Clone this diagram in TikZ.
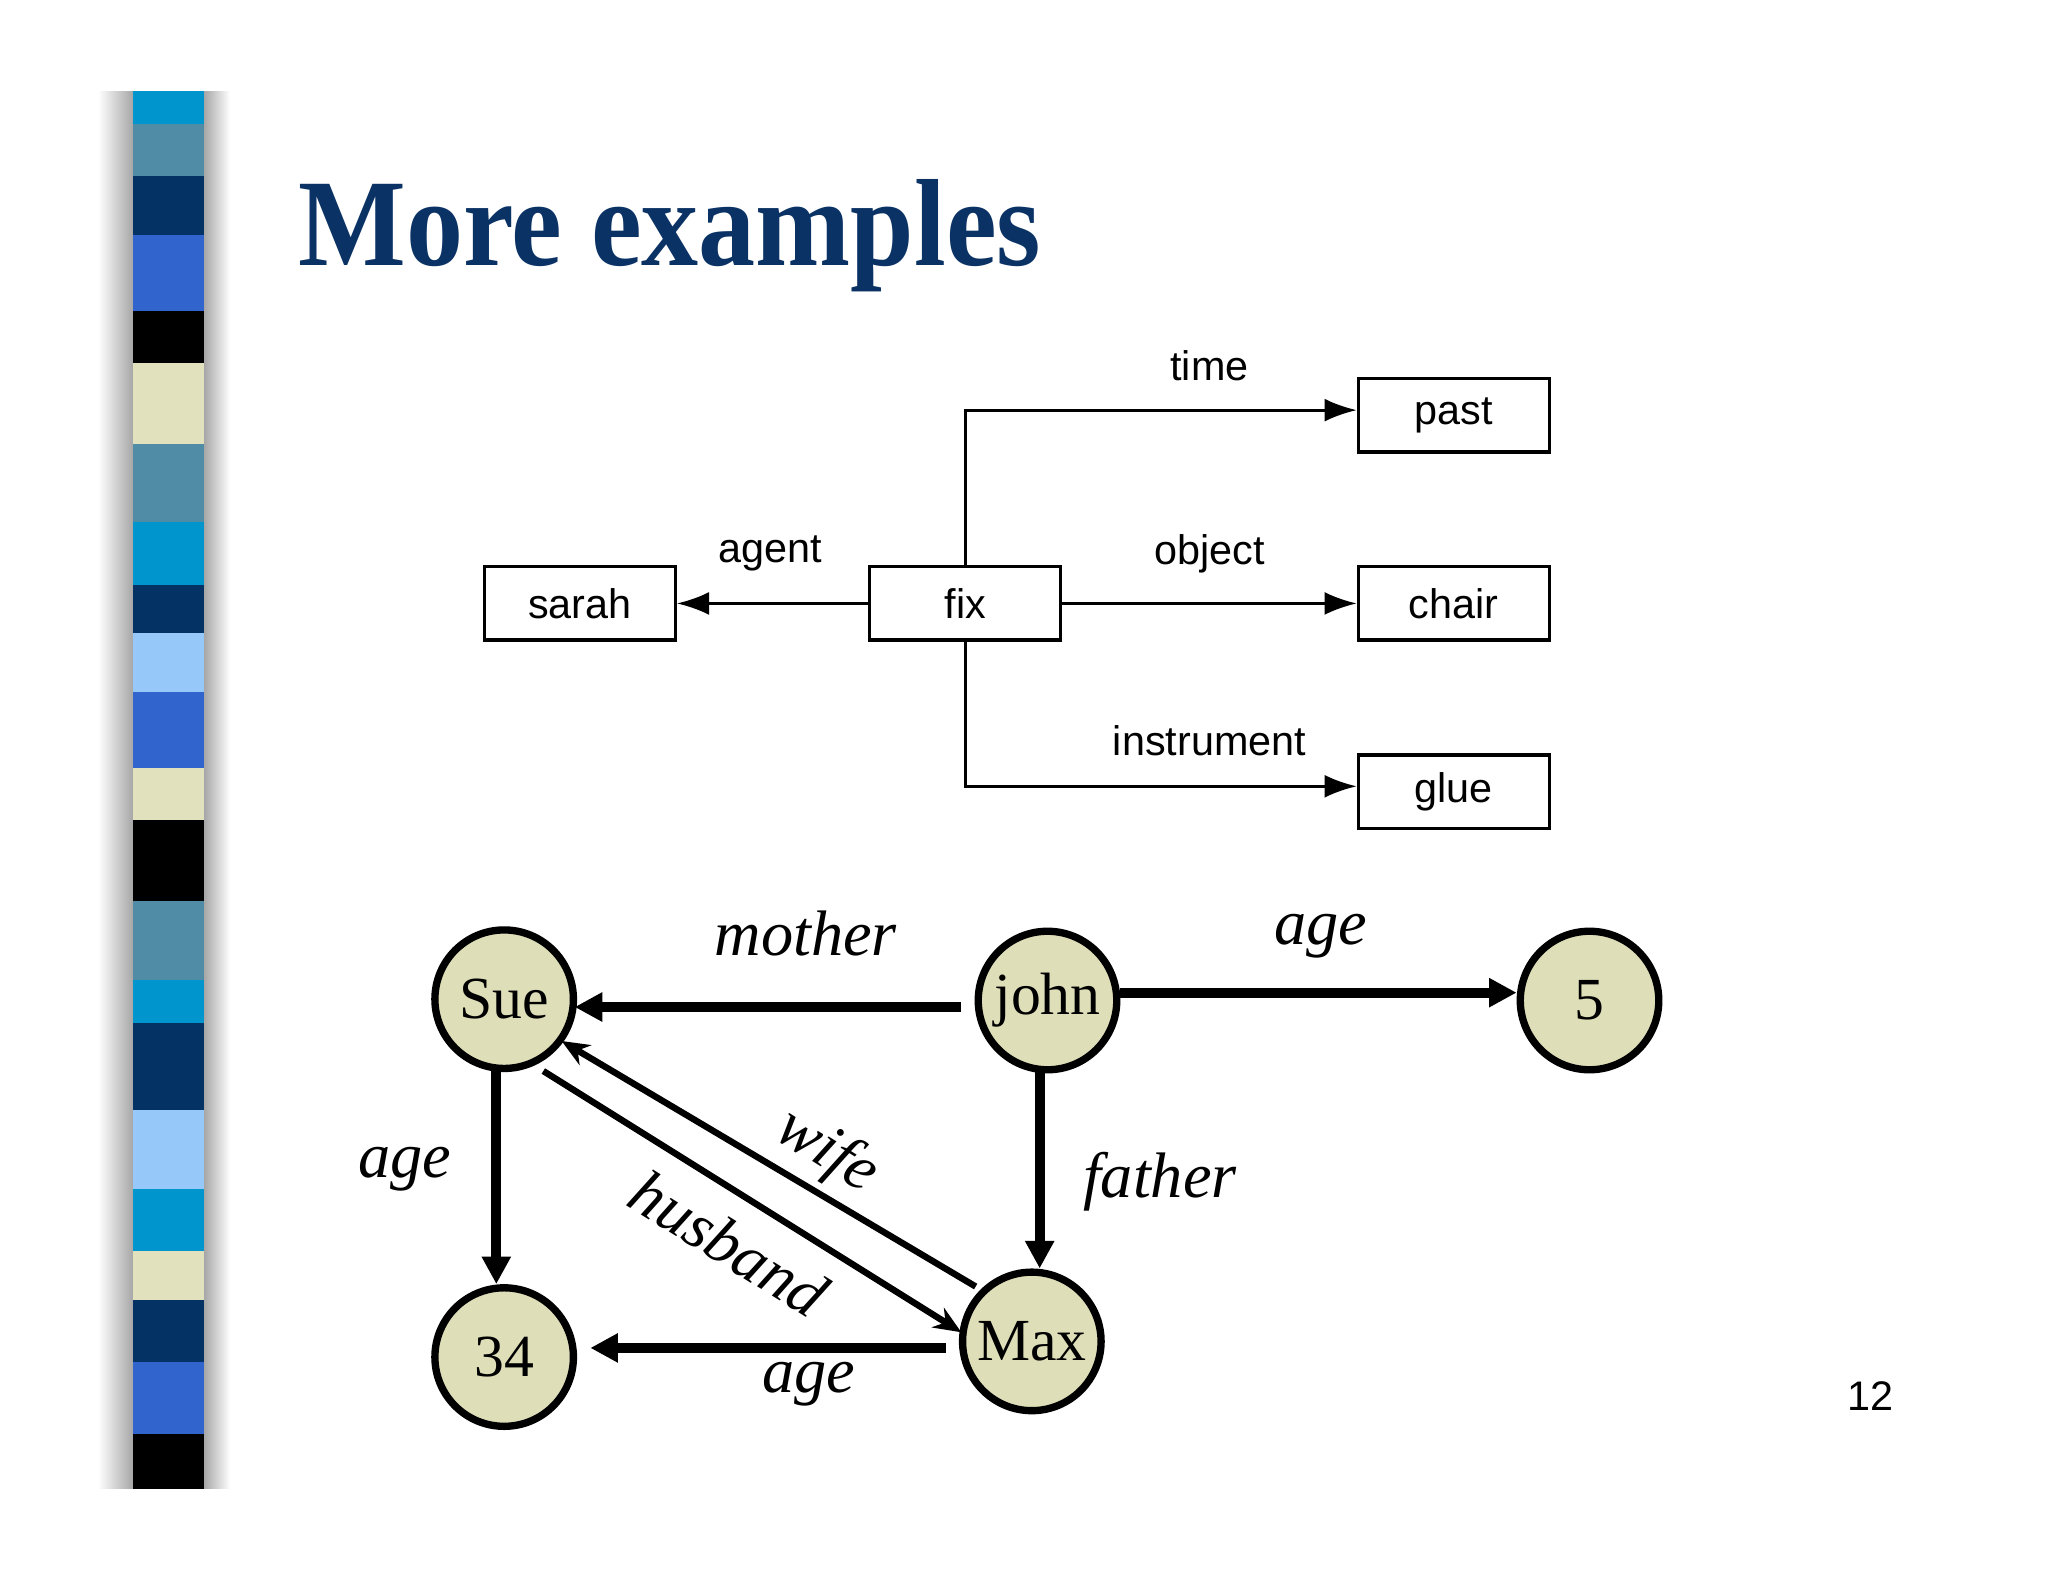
\documentclass[tikz,border=0pt]{standalone}
\usepackage{fontspec}
\setmainfont{Liberation Serif}
\setsansfont{Liberation Sans}
\usetikzlibrary{arrows.meta}
\definecolor{navy}{RGB}{10,50,100}
\definecolor{cyn}{RGB}{0,150,205}
\definecolor{stl}{RGB}{80,140,165}
\definecolor{dnv}{RGB}{5,50,100}
\definecolor{roy}{RGB}{50,100,205}
\definecolor{bge}{RGB}{225,225,190}
\definecolor{lbl}{RGB}{150,200,250}
\definecolor{cfill}{RGB}{222,222,184}
\tikzset{
 bx/.style={draw,line width=0.7pt,minimum width=1.46cm,minimum height=0.56cm,font=\sffamily\fontsize{9}{10}\selectfont,inner sep=0},
 rel/.style={line width=0.6pt,-{Latex[length=7pt,width=5pt]}},
 lab/.style={font=\sffamily\fontsize{9}{10}\selectfont},
 cir/.style={circle,draw,line width=1.6pt,fill=cfill,minimum size=1.06cm,inner sep=0,font=\fontsize{13}{14}\selectfont},
 thk/.style={line width=2.2pt,-{Triangle[length=6pt,width=6pt]}},
 thn/.style={line width=1.4pt,-{Stealth[length=6pt,width=5pt]}},
 ilab/.style={font=\itshape\fontsize{14}{16}\selectfont}
}
\begin{document}
\begin{tikzpicture}[x=0.01cm,y=-0.01cm]
\useasboundingbox (0,0) rectangle (1568,1211);
\fill[white] (0,0) rectangle (1568,1211);
\shade[left color=white,right color=gray!70] (75,70) rectangle (102,1140);
\shade[left color=gray!70,right color=white] (156,70) rectangle (176,1140);
\foreach \a/\b/\c in {70/95/cyn,95/135/stl,135/180/dnv,180/238/roy,238/278/black,278/340/bge,340/400/stl,400/448/cyn,448/485/dnv,485/530/lbl,530/588/roy,588/628/bge,628/690/black,690/750/stl,750/783/cyn,783/850/dnv,850/910/lbl,910/958/cyn,958/995/bge,995/1043/dnv,1043/1098/roy,1098/1140/black}
 \fill[\c] (102,\a) rectangle (156,\b);
\node[anchor=base west,text=navy,font=\bfseries\fontsize{27}{30}\selectfont,inner sep=0,xscale=0.92] (title) at (228,203) {More examples};
\node[bx] (sarah) at (444,462) {sarah};
\node[bx] (fix) at (739,462) {fix};
\node[bx] (past) at (1113,318) {past};
\node[bx] (chair) at (1113,462) {chair};
\node[bx] (glue) at (1113,606) {glue};
\draw[rel] (fix.west) -- (sarah.east);
\draw[rel] (fix.east) -- (chair.west);
\draw[rel] (fix.north) |- (past.west |- 0,314);
\draw[rel] (fix.south) |- (glue.west |- 0,602);
\node[lab] (l1) at (926,280) {time};
\node[lab] (l2) at (590,424) {agent};
\node[lab] (l3) at (926,424) {object};
\node[lab] (l4) at (926,567) {instrument};
\node[cir] (sue) at (386,765) {Sue};
\node[cir] (john) at (802,766) {john};
\node[cir] (five) at (1217,766) {5};
\node[cir] (n34) at (386,1039) {34};
\node[cir] (max) at (790,1027) {Max};
\coordinate (a1) at (736,771); \coordinate (b1) at (440,771);
\draw[thk] (a1) -- (b1);
\draw[thk] (john.east |- 0,760) -- (five.west |- 0,760);
\draw[thk] (796,820) -- (max.north -| 796,0);
\draw[thk] (380,820) -- (n34.north -| 380,0);
\coordinate (a2) at (724,1032); \coordinate (b2) at (452,1032);
\draw[thk] (a2) -- (b2);
\coordinate (w1) at (747,985); \coordinate (w2) at (430,797);
\draw[thn] (w1) -- (w2);
\coordinate (h1) at (416,820); \coordinate (h2) at (736,1020);
\draw[thn] (h1) -- (h2);
\node[ilab] (m) at (617,715) {mother};
\node[ilab] (ag1) at (1011,717) {age};
\node[ilab] (ag2) at (310,895) {age};
\node[ilab] (fa) at (888,905) {father};
\node[ilab] (ag3) at (619,1060) {age};
\node[ilab,rotate=-32,inner sep=0] (wf) at (633,882) {wife};
\node[ilab,rotate=-32,inner sep=0] (hb) at (558,952) {husband};
\node[font=\sffamily\fontsize{9}{10}\selectfont] (pg) at (1432,1069) {12};
\end{tikzpicture}
\end{document}
